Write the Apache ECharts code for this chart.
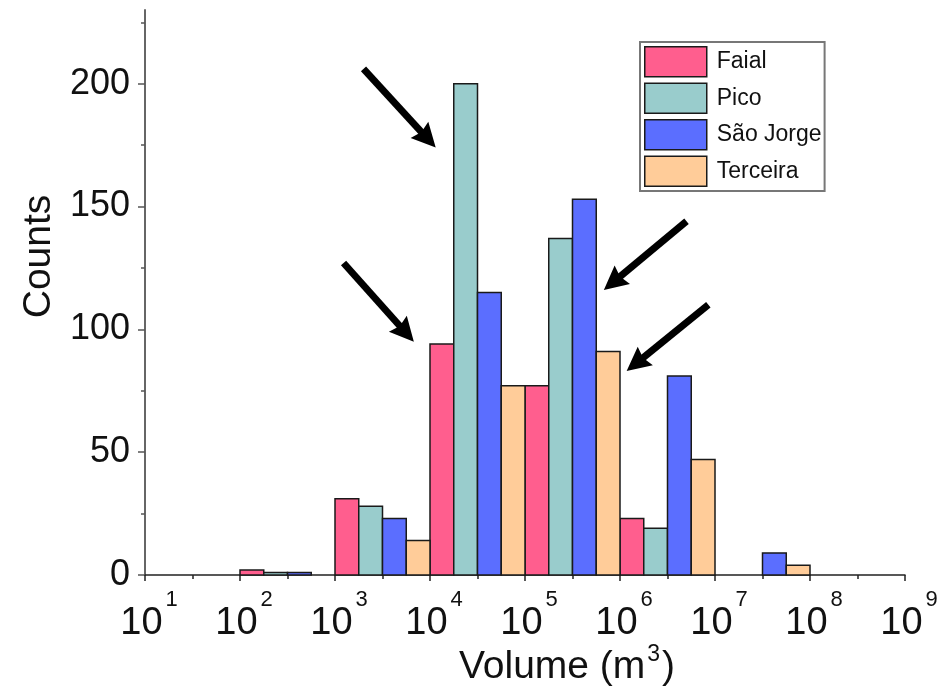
<!DOCTYPE html>
<html><head><meta charset="utf-8">
<script src="https://cdn.jsdelivr.net/npm/echarts@6/dist/echarts.min.js"></script>
<style>html,body{margin:0;padding:0;background:#fff}#c{width:938px;height:688px}</style>
</head><body><div id="c"></div>
<script>
// log10 of the lower edge of each decade
const decades = [1, 2, 3, 4, 5, 6, 7, 8];
const seriesNames = ['Faial', 'Pico', 'São Jorge', 'Terceira'];
const faial    = [0, 2, 31, 94, 77, 23, 0, 0];
const pico     = [0, 1, 28, 200, 137, 19, 0, 0];
const saoJorge = [0, 1, 23, 115, 153, 81, 9, 0];
const terceira = [0, 0, 14, 77, 91, 47, 4, 0];
const xTickExponents = [1, 2, 3, 4, 5, 6, 7, 8, 9];
const yTicks = [0, 50, 100, 150, 200];
const yMinorTicks = [25, 75, 125, 175, 225];
// annotation arrows (data space: log10 volume, counts)
const arrowFrom = [[3.30, 206], [3.09, 127], [6.70, 144], [6.93, 110]];
const arrowTo   = [[4.06, 174], [3.83, 95], [5.83, 116], [6.07, 83]];

const colors = ['#FF5E8E', '#99CCCC', '#5B6EFF', '#FFCC99'];
const allValues = [faial, pico, saoJorge, terceira];
const FONT = "'Liberation Sans', Arial, sans-serif";

const chart = echarts.init(document.getElementById('c'), null, {renderer: 'canvas'});

function makeSeries(idx) {
  const data = [];
  decades.forEach((d, k) => {
    const v = allValues[idx][k];
    if (v > 0) data.push([d + idx / 4, d + (idx + 1) / 4, v]);
  });
  return {
    type: 'custom',
    name: seriesNames[idx],
    itemStyle: {color: colors[idx], borderColor: '#1a1a1a', borderWidth: 1.5},
    encode: {x: [0, 1], y: 2},
    data: data,
    renderItem: function (params, api) {
      const p0 = api.coord([api.value(0), api.value(2)]);
      const p1 = api.coord([api.value(1), 0]);
      return {
        type: 'rect',
        shape: {x: p0[0], y: p0[1], width: p1[0] - p0[0], height: p1[1] - p0[1]},
        style: {fill: colors[idx], stroke: '#1a1a1a', lineWidth: 1.5}
      };
    }
  };
}

const option = {
  backgroundColor: '#fff',
  animation: false,
  grid: {left: 145, right: 33, top: 10, bottom: 113, containLabel: false, outerBoundsMode: 'none'},
  legend: {
    orient: 'vertical', left: 640, top: 42,
    itemWidth: 62, itemHeight: 30, itemGap: 5,
    padding: [4, 3, 4, 4],
    borderColor: '#777', borderWidth: 2,
    icon: 'rect',
    textStyle: {fontSize: 23, fontFamily: FONT, color: '#111', padding: [0, 0, 0, 5]},
    data: seriesNames.map((n, i) => ({name: n, itemStyle: {color: colors[i], borderColor: '#1a1a1a', borderWidth: 1.5}}))
  },
  xAxis: {
    type: 'value', min: 1, max: 9, interval: 1,
    axisLine: {show: true, onZero: false, lineStyle: {color: '#222', width: 1.5}},
    axisTick: {show: true, length: 6, lineStyle: {color: '#222', width: 1.5}},
    minorTick: {show: true, splitNumber: 2, length: 4, lineStyle: {color: '#222', width: 1.5}},
    splitLine: {show: false},
    axisLabel: {
      margin: 14,
      formatter: v => '{b|10}{s|' + v + '}',
      rich: {
        b: {fontSize: 38, fontFamily: FONT, color: '#111', lineHeight: 54, verticalAlign: 'bottom', padding: [0, 0, 0, 8]},
        s: {fontSize: 22, fontFamily: FONT, color: '#111', lineHeight: 24, verticalAlign: 'top', padding: [0, 0, 0, 3]}
      }
    },
    name: '{a|Volume (m}{s|3}{a|)}',
    nameLocation: 'middle', nameGap: 64, nameMoveOverlap: false,
    nameTextStyle: {
      padding: [0, 0, 0, 84],
      rich: {
        a: {fontSize: 39, fontFamily: FONT, color: '#111', lineHeight: 48, verticalAlign: 'bottom'},
        s: {fontSize: 23, fontFamily: FONT, color: '#111', lineHeight: 24, verticalAlign: 'top', padding: [4, 2, 0, 2]}
      }
    }
  },
  yAxis: [{
    type: 'value', min: 0, max: 230,
    axisLine: {show: true, lineStyle: {color: '#666', width: 2}},
    axisTick: {show: true, length: 7, customValues: yTicks, lineStyle: {color: '#555', width: 1.5}},
    axisLabel: {customValues: yTicks, fontSize: 36, fontFamily: FONT, color: '#111', margin: 15},
    splitLine: {show: false},
    name: 'Counts', nameLocation: 'middle', nameGap: 86, nameMoveOverlap: false,
    nameTextStyle: {fontSize: 39, fontFamily: FONT, color: '#111', padding: [0, 0, 0, 72]}
  }, {
    type: 'value', min: 0, max: 230, position: 'left',
    axisLine: {show: false},
    axisTick: {show: true, length: 4, customValues: yMinorTicks, lineStyle: {color: '#555', width: 1.5}},
    axisLabel: {show: false},
    splitLine: {show: false}
  }],
  series: [0, 1, 2, 3].map(makeSeries)
};
chart.setOption(option);

function drawArrows() {
  const els = [];
  arrowFrom.forEach((f, i) => {
    const S = chart.convertToPixel({xAxisIndex: 0, yAxisIndex: 0}, f);
    const T = chart.convertToPixel({xAxisIndex: 0, yAxisIndex: 0}, arrowTo[i]);
    const dx = T[0] - S[0], dy = T[1] - S[1];
    const len = Math.hypot(dx, dy);
    const ux = dx / len, uy = dy / len;
    const nx = -uy, ny = ux;
    const L = 24, W = 12, notch = 3;
    const Bx = T[0] - ux * L, By = T[1] - uy * L;
    els.push({
      type: 'line', silent: true,
      shape: {x1: S[0], y1: S[1], x2: Bx + ux * (notch + 1), y2: By + uy * (notch + 1)},
      style: {stroke: '#000', lineWidth: 7, lineCap: 'butt'}
    });
    els.push({
      type: 'polygon', silent: true,
      shape: {points: [[T[0], T[1]], [Bx + nx * W, By + ny * W], [Bx + ux * notch, By + uy * notch], [Bx - nx * W, By - ny * W]]},
      style: {fill: '#000'}
    });
  });
  chart.setOption({graphic: {elements: els}});
}
drawArrows();
</script></body></html>
